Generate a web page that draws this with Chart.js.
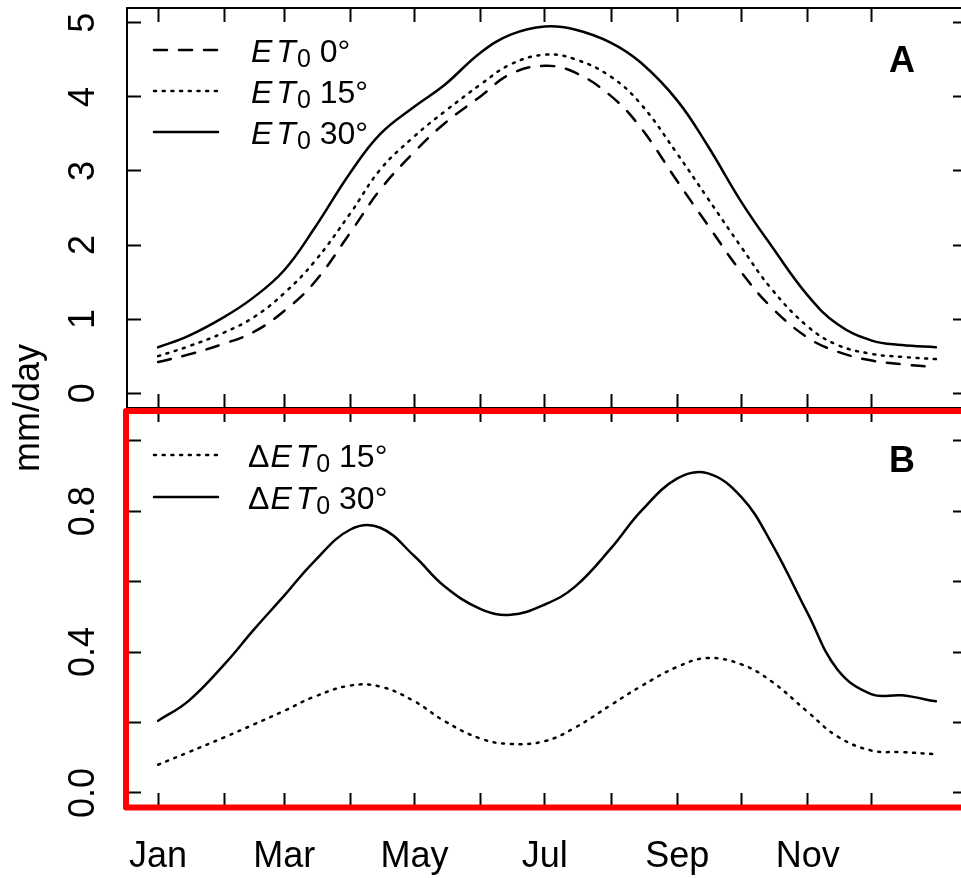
<!DOCTYPE html>
<html>
<head>
<meta charset="utf-8">
<script src="https://cdn.jsdelivr.net/npm/chart.js@4"></script>
<style>
  html, body { margin: 0; padding: 0; background: #fff; overflow: hidden; }
  #wrap { position: relative; width: 961px; height: 878px; overflow: hidden; background: #fff; }
  #chartA { position: absolute; left: 0; top: 0; }
  #chartB { position: absolute; left: 0; top: 400px; }
</style>
</head>
<body>
<div id="wrap">
  <canvas id="chartA" width="975" height="480"></canvas>
  <canvas id="chartB" width="975" height="478"></canvas>
</div>
<script>
// den v roce pro kazdy odecteny bod
const days = [1, 15, 32, 46, 60, 74, 91, 105, 121, 135, 152, 166, 182, 196, 213, 227, 244, 258, 274, 288, 305, 319, 335, 349, 365];

// panel A - ET0 (mm/day) pro sklon 0, 15 a 30 stupnu
const et0_0  = [0.42, 0.52, 0.67, 0.83, 1.11, 1.49, 2.17, 2.75, 3.26, 3.64, 4.01, 4.31, 4.42, 4.33, 4.01, 3.58, 2.86, 2.28, 1.63, 1.16, 0.75, 0.56, 0.44, 0.39, 0.35];
const et0_15 = [0.50, 0.63, 0.82, 1.03, 1.35, 1.77, 2.43, 3.02, 3.47, 3.80, 4.17, 4.44, 4.57, 4.51, 4.27, 3.90, 3.23, 2.64, 1.97, 1.41, 0.90, 0.65, 0.53, 0.49, 0.46];
const et0_30 = [0.62, 0.77, 1.03, 1.30, 1.66, 2.22, 2.98, 3.50, 3.87, 4.16, 4.60, 4.84, 4.95, 4.91, 4.73, 4.46, 3.95, 3.35, 2.58, 1.99, 1.32, 0.93, 0.71, 0.65, 0.62];

// panel B - rozdil ET0 proti 0 stupnum
const dEt0_15 = [0.080, 0.115, 0.158, 0.195, 0.233, 0.273, 0.305, 0.302, 0.260, 0.204, 0.154, 0.139, 0.147, 0.185, 0.250, 0.303, 0.358, 0.383, 0.365, 0.317, 0.230, 0.160, 0.120, 0.116, 0.110];
const dEt0_30 = [0.205, 0.260, 0.365, 0.465, 0.560, 0.657, 0.748, 0.753, 0.672, 0.587, 0.522, 0.506, 0.535, 0.585, 0.695, 0.800, 0.893, 0.908, 0.840, 0.710, 0.510, 0.350, 0.280, 0.277, 0.260];

// osy
const monthStarts = [1, 32, 60, 91, 121, 152, 182, 213, 244, 274, 305, 335];
const monthLabels = ['Jan', '', 'Mar', '', 'May', '', 'Jul', '', 'Sep', '', 'Nov', ''];
const yTicksA = [0, 1, 2, 3, 4, 5];
const yLabelsA = ['0', '1', '2', '3', '4', '5'];
const yTicksB = [0, 0.2, 0.4, 0.6, 0.8, 1.0];
const yLabelsB = ['0.0', '', '0.4', '', '0.8', ''];

const FONT = "'Liberation Sans', Arial, Helvetica, sans-serif";
const DASHED = [13, 12];
const DOTTED = [2, 6.7];

function tickGrid() {
    // kratke tiky smerem dovnitr grafu
    return { display: true, drawOnChartArea: false, drawTicks: true, tickLength: -14, tickWidth: 2, tickColor: '#000' };
}

function axisBorder() {
    return { display: true, color: '#000', width: 2 };
}

// pevna velikost osy a zadny automaticky padding (jinak se posune plocha grafu)
function fixSize(w, h) {
    return s => {
        if (w !== null) s.width = w;
        if (h !== null) s.height = h;
        s.paddingTop = 0;
        s.paddingBottom = 0;
        s.paddingLeft = 0;
        s.paddingRight = 0;
    };
}

function MakeScales(yMin, yMax, yTicks, yLabels, yPad, showX, xHeight) {
    const xRange = { min: -13.56, max: 379.56 };
    const setMonths = s => { s.ticks = monthStarts.map(v => ({ value: v })); };
    const setY = s => { s.ticks = yTicks.map(v => ({ value: v })); };
    return {
        x: {
            type: 'linear', position: 'bottom', ...xRange,
            grid: tickGrid(), border: axisBorder(),
            afterBuildTicks: setMonths,
            afterFit: fixSize(null, xHeight),
            ticks: {
                display: showX, autoSkip: false, maxRotation: 0, minRotation: 0, padding: 42,
                color: '#000', font: { family: FONT, size: 36 },
                callback: (v, i) => monthLabels[i]
            }
        },
        x2: {
            type: 'linear', position: 'top', ...xRange,
            grid: tickGrid(), border: axisBorder(),
            afterBuildTicks: setMonths,
            afterFit: fixSize(null, 8),
            ticks: { display: false }
        },
        y: {
            type: 'linear', position: 'left', min: yMin, max: yMax,
            grid: tickGrid(), border: axisBorder(),
            afterBuildTicks: setY,
            afterFit: fixSize(127, null),
            ticks: {
                minRotation: 90, maxRotation: 90, crossAlign: 'center', padding: yPad,
                color: '#000', font: { family: FONT, size: 36 },
                callback: (v, i) => yLabels[i]
            }
        },
        y2: {
            type: 'linear', position: 'right', min: yMin, max: yMax,
            grid: tickGrid(), border: axisBorder(),
            afterBuildTicks: setY,
            afterFit: fixSize(8, null),
            ticks: { display: false }
        }
    };
}

function Line(values, dash) {
    return {
        data: days.map((d, i) => ({ x: d, y: values[i] })),
        borderColor: '#000',
        borderWidth: 2.5,
        borderDash: dash,
        borderCapStyle: 'round',
        pointRadius: 0,
        fill: false,
        tension: 0.4
    };
}

// legenda, pismeno panelu, popisek osy a cerveny ramecek
const rDecor = {
    id: 'rDecor',
    afterDraw(chart, args, opts) {
        const ctx = chart.ctx;
        const area = chart.chartArea;
        ctx.save();
        ctx.fillStyle = '#000';
        ctx.strokeStyle = '#000';

        opts.items.forEach((it, i) => {
            const y = area.top + opts.firstRow + i * opts.rowGap;
            ctx.beginPath();
            ctx.setLineDash(it.dash);
            ctx.lineCap = 'round';
            ctx.lineWidth = 2.5;
            ctx.moveTo(area.left + 27, y);
            ctx.lineTo(area.left + 91, y);
            ctx.stroke();
            ctx.setLineDash([]);

            const base = y + 11.5;
            let x = area.left + 124;
            ctx.textAlign = 'left';
            ctx.textBaseline = 'alphabetic';
            if (it.delta) {
                ctx.font = '32px ' + FONT;
                ctx.fillText('\u0394', x - 3, base);
                x += ctx.measureText('\u0394').width - 2;
            }
            ctx.font = 'italic 32px ' + FONT;
            ctx.fillText('E', x, base);
            x += ctx.measureText('E').width + 4;
            ctx.fillText('T', x, base);
            x += ctx.measureText('T').width + 1;
            ctx.font = '25px ' + FONT;
            ctx.fillText('0', x, base + 5);
            x += ctx.measureText('0').width;
            ctx.font = '32px ' + FONT;
            ctx.fillText(' ' + it.label, x, base);
        });

        ctx.font = 'bold 36px ' + FONT;
        ctx.textAlign = 'center';
        ctx.textBaseline = 'middle';
        ctx.fillText(opts.letter, area.right - 65, area.top + 54);

        if (opts.yTitle) {
            ctx.save();
            ctx.translate(29, area.bottom);
            ctx.rotate(-Math.PI / 2);
            ctx.font = '36px ' + FONT;
            ctx.fillText(opts.yTitle, 0, 0);
            ctx.restore();
        }

        if (opts.highlight) {
            ctx.beginPath();
            ctx.lineWidth = 6;
            ctx.lineJoin = 'round';
            ctx.strokeStyle = '#ff0000';
            ctx.rect(area.left - 1, area.top + 3, area.right - area.left + 40, area.bottom - area.top - 2.5);
            ctx.stroke();
        }
        ctx.restore();
    }
};

function BaseOptions(scales, decor) {
    return {
        responsive: false,
        animation: false,
        events: [],
        layout: { padding: 0, autoPadding: false },
        scales: scales,
        plugins: {
            legend: { display: false },
            tooltip: { enabled: false },
            rDecor: decor
        }
    };
}

new Chart(document.getElementById('chartA').getContext('2d'), {
    type: 'line',
    data: {
        datasets: [Line(et0_0, DASHED), Line(et0_15, DOTTED), Line(et0_30, [])]
    },
    options: BaseOptions(
        MakeScales(-0.2, 5.2, yTicksA, yLabelsA, 47, false, 72),
        {
            letter: 'A', yTitle: 'mm/day', firstRow: 42, rowGap: 41,
            items: [
                { dash: DASHED, label: '0\u00b0' },
                { dash: DOTTED, label: '15\u00b0' },
                { dash: [], label: '30\u00b0' }
            ]
        }
    ),
    plugins: [rDecor]
});

new Chart(document.getElementById('chartB').getContext('2d'), {
    type: 'line',
    data: {
        datasets: [Line(dEt0_15, DOTTED), Line(dEt0_30, [])]
    },
    options: BaseOptions(
        MakeScales(-0.04, 1.093, yTicksB, yLabelsB, 32, true, 71),
        {
            letter: 'B', firstRow: 47, rowGap: 42, highlight: true,
            items: [
                { dash: DOTTED, label: '15\u00b0', delta: true },
                { dash: [], label: '30\u00b0', delta: true }
            ]
        }
    ),
    plugins: [rDecor]
});
</script>
</body>
</html>
